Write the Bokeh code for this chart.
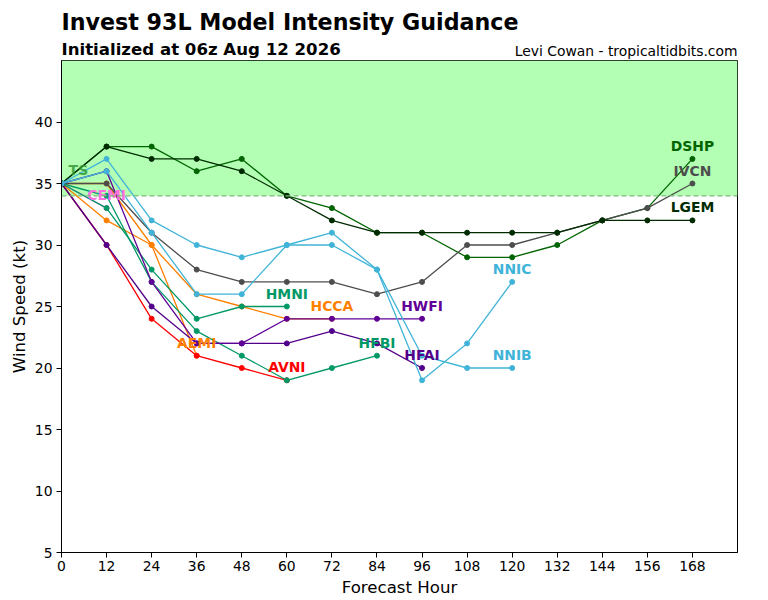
import math
from bokeh.plotting import figure
from bokeh.layouts import column
from bokeh.models import ColumnDataSource, BoxAnnotation, Span, Label, FixedTicker, Range1d
from bokeh.core.properties import value
from bokeh.embed import file_html
from bokeh.resources import INLINE

# ---- data ----
hours = [0, 12, 24, 36, 48, 60, 72, 84, 96, 108, 120, 132, 144, 156, 168]
y_ticks = [5, 10, 15, 20, 25, 30, 35, 40]
ts_threshold = 34

CEMI = [35, 33]
AEMI = [35, 35, 30, 21]
HCCA = [35, 32, 30, 26, 25, 24, 24]
AVNI = [35, 30, 24, 21, 20, 19]
HFBI = [35, 34, 27, 23, 21, 19, 20, 21]
HMNI = [35, 33, 28, 24, 25, 25]
HFAI = [35, 30, 25, 22, 22, 22, 23, 22, 20]
HWFI = [35, 36, 27, 22, 22, 24, 24, 24, 24]
DSHP = [35, 38, 38, 36, 37, 34, 33, 31, 31, 29, 29, 30, 32, 33, 37]
IVCN = [35, 35, 31, 28, 27, 27, 27, 26, 27, 30, 30, 31, 32, 33, 35]
LGEM = [35, 38, 37, 37, 36, 34, 32, 31, 31, 31, 31, 31, 32, 32, 32]
NNIC = [35, 36, 31, 26, 26, 30, 30, 28, 19, 22, 27]
NNIB = [35, 37, 32, 30, 29, 30, 31, 28, 21, 20, 20]

model_names = ["CEMI", "AEMI", "HCCA", "AVNI", "HFBI", "HMNI", "HFAI", "HWFI",
               "DSHP", "IVCN", "LGEM", "NNIC", "NNIB"]
model_values = [CEMI, AEMI, HCCA, AVNI, HFBI, HMNI, HFAI, HWFI,
                DSHP, IVCN, LGEM, NNIC, NNIB]
model_colors = ["#ff6fe0", "#ff7f00", "#ff7f00", "#ff0000", "#009966", "#009966",
                "#52008a", "#5f0096", "#006400", "#4d4d4d", "#002b00", "#40b4d8", "#40b4d8"]

title_text = "Invest 93L Model Intensity Guidance"
subtitle_text = "Initialized at 06z Aug 12 2026"
credit_text = "Levi Cowan - tropicaltidbits.com"

FONT = "DejaVu Sans"
HEAD_H = 59

# ---- header (texts only); its frame is aligned with the chart frame (x 61..737) ----
h = figure(width=768, height=HEAD_H, output_backend="svg", toolbar_location=None,
           x_range=Range1d(61, 737), y_range=Range1d(HEAD_H, 0),
           x_axis_type=None, y_axis_type=None, min_border=0, title=None)
h.outline_line_color = None
h.xgrid.visible = False
h.ygrid.visible = False
h.background_fill_color = "white"
h.border_fill_color = "white"
h.add_layout(Label(x=61, y=21.8, text=title_text, text_font=FONT,
                   text_font_size="22.2px", text_font_style="bold", text_color="black",
                   text_align="left", text_baseline="middle"))
h.add_layout(Label(x=61, y=49.3, text=subtitle_text, text_font=FONT,
                   text_font_size="16.6px", text_font_style="bold", text_color="black",
                   text_align="left", text_baseline="middle"))
h.add_layout(Label(x=737, y=50.2, text=credit_text, text_font=FONT,
                   text_font_size="13.9px", text_color="black",
                   text_align="right", text_baseline="middle"))

# ---- main chart ----
p = figure(width=768, height=600 - HEAD_H, output_backend="svg", toolbar_location=None,
           title=None,
           x_range=Range1d(0, 180), y_range=Range1d(5, 45),
           min_border_left=61, min_border_right=31, min_border_top=1, min_border_bottom=48)
p.background_fill_color = "white"
p.border_fill_color = "white"
p.outline_line_color = "black"
p.outline_line_width = 1
p.xgrid.visible = False
p.ygrid.visible = False

for ax in (p.xaxis, p.yaxis):
    ax.axis_line_color = "black"
    ax.major_tick_line_color = "black"
    ax.minor_tick_line_color = None
    ax.major_tick_out = 5
    ax.major_tick_in = 0
    ax.major_label_text_font = FONT
    ax.major_label_text_font_size = "13.9px"
    ax.major_label_text_color = "black"
    ax.axis_label_text_font = FONT
    ax.axis_label_text_font_size = "16.6px"
    ax.axis_label_text_font_style = "normal"
    ax.axis_label_text_color = "black"
p.xaxis.ticker = FixedTicker(ticks=hours)
p.yaxis.ticker = FixedTicker(ticks=y_ticks)
p.xaxis.major_label_standoff = 3
p.yaxis.major_label_standoff = 4
p.xaxis.axis_label = "Forecast Hour"
p.yaxis.axis_label = "Wind Speed (kt)"
p.xaxis.axis_label_standoff = 4
p.yaxis.axis_label_standoff = 3

# TS zone
p.add_layout(BoxAnnotation(bottom=ts_threshold, fill_color="#b3ffb3", fill_alpha=1.0,
                           line_color=None, level="underlay"))
p.add_layout(Span(location=ts_threshold, dimension="width", line_color="#77bb77",
                  line_dash="5 3", line_width=1.2))

# model lines
lab_x, lab_y, lab_t, lab_c = [], [], [], []
for name, vals, col in zip(model_names, model_values, model_colors):
    xs = hours[:len(vals)]
    p.line(xs, vals, line_color=col, line_width=1.3)
    p.scatter(xs, vals, size=5, fill_color=col, line_color=col)
    lab_x.append(xs[-1]); lab_y.append(vals[-1]); lab_t.append(name); lab_c.append(col)

src = ColumnDataSource(dict(x=lab_x, y=lab_y, t=lab_t, c=lab_c))
p.text(x="x", y="y", text="t", text_color="c", source=src,
       text_font=value(FONT), text_font_size="13.9px", text_font_style="bold",
       text_align="center", text_baseline="middle", y_offset=-13)

p.add_layout(Label(x=4.5, y=36.1, text="TS", text_color="#339933", text_alpha=0.85,
                   text_font=FONT, text_font_size="14px", text_font_style="bold",
                   text_align="center", text_baseline="middle"))

layout = column(h, p, spacing=0)
open("out.html", "w").write(file_html(layout, INLINE))
